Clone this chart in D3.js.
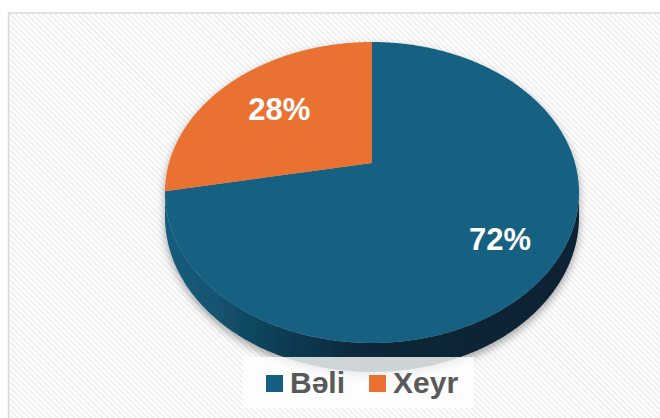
<html>
<head>
<script src="https://cdn.jsdelivr.net/npm/d3@7"></script>
<style>
  body { margin: 0; background: #fff; }
  svg { display: block; }
</style>
</head>
<body>
<div id="chart"></div>
<script type="text/javascript">
// data
const categories = ["Bəli", "Xeyr"];
const values = [72, 28];
const colors = ["#156082", "#E97132"];

const W = 660, H = 418;
const svg = d3.select("#chart").append("svg").attr("width", W).attr("height", H);
const defs = svg.append("defs");

// striped chart background
const pat = defs.append("pattern")
  .attr("id", "stripes").attr("width", 4).attr("height", 4)
  .attr("patternUnits", "userSpaceOnUse")
  .attr("patternTransform", "rotate(-45)");
pat.append("rect").attr("width", 4).attr("height", 4).attr("fill", "#ffffff");
pat.append("rect").attr("width", 2).attr("height", 4).attr("fill", "#f0f0f0");

svg.append("rect")
  .attr("x", 8.5).attr("y", 13).attr("width", 670).attr("height", 430)
  .attr("fill", "url(#stripes)")
  .attr("stroke", "#d9d9d9").attr("stroke-width", 1.5);

// side gradient for the 3d rim
const grad = defs.append("linearGradient")
  .attr("id", "side").attr("gradientUnits", "userSpaceOnUse")
  .attr("x1", 165).attr("x2", 580).attr("y1", 0).attr("y2", 0);
[[0, "#155d7d"], [0.12, "#135470"], [0.3, "#0e3a52"], [0.5, "#0a2637"], [1, "#0a2331"]].forEach(s =>
  grad.append("stop").attr("offset", s[0]).attr("stop-color", s[1]));

const shadow = defs.append("filter").attr("id", "shadow")
  .attr("x", "-10%").attr("y", "-10%").attr("width", "120%").attr("height", "130%");
shadow.append("feDropShadow").attr("dx", 0).attr("dy", 4).attr("stdDeviation", 4)
  .attr("flood-color", "#000").attr("flood-opacity", 0.35);

// perspective projection of the pie disk
const cx = 372, cy = 163;   // projected centre of the disk
const A = 203, B = 144.7;   // horizontal / depth scale
const k = 0.196;            // perspective strength
const depth = 23.3;         // rim thickness

function proj(angle, r, down) {
  const u = r * Math.sin(angle), v = -r * Math.cos(angle);
  const s = 1 / (1 - k * v);
  return [cx + A * u * s, cy + B * v * s + (down ? depth * s : 0)];
}

const pie = d3.pie().sort(null).startAngle(0).endAngle(2 * Math.PI);
const arcs = pie(values);
const step = Math.PI / 360;

function arcPoints(a0, a1, r, down) {
  const pts = [];
  const n = Math.max(2, Math.ceil((a1 - a0) / step));
  for (let i = 0; i <= n; i++) pts.push(proj(a0 + (a1 - a0) * i / n, r, down));
  return pts;
}

const line = d3.line();
const g = svg.append("g").attr("filter", "url(#shadow)");

// visible front band of the rim (between the left/right extremes)
const te = Math.acos(-k);   // angle of the widest point
arcs.forEach((d, i) => {
  const a0 = Math.max(d.startAngle, te), a1 = Math.min(d.endAngle, 2 * Math.PI - te);
  if (a1 <= a0) return;
  const top = arcPoints(a0, a1, 1, false);
  const bot = arcPoints(a0, a1, 1, true).reverse();
  g.append("path")
    .attr("d", line(top.concat(bot)) + "Z")
    .attr("fill", i === 0 ? "url(#side)" : d3.color(colors[i]).darker(1.2));
});

// top faces
g.selectAll("path.top").data(arcs).enter().append("path")
  .attr("class", "top")
  .attr("d", d => line([[cx, cy]].concat(arcPoints(d.startAngle, d.endAngle, 1, false))) + "Z")
  .attr("fill", (d, i) => colors[i]);

// percent labels
const total = d3.sum(values);
const labelPos = d => {
  const p = proj((d.startAngle + d.endAngle) / 2, 0.7, false);
  return [p[0] + 8, p[1] + 6];
};
svg.selectAll("text.pct").data(arcs).enter().append("text")
  .attr("class", "pct")
  .attr("x", d => labelPos(d)[0])
  .attr("y", d => labelPos(d)[1])
  .attr("text-anchor", "middle").attr("dominant-baseline", "central")
  .attr("font-family", "Liberation Sans, Arial, sans-serif")
  .attr("font-weight", "bold").attr("font-size", 31).attr("fill", "#fff")
  .text(d => Math.round(d.value / total * 100) + "%");

// legend
svg.append("rect")
  .attr("x", 243).attr("y", 357).attr("width", 231).attr("height", 51)
  .attr("fill", "#fff").attr("fill-opacity", 0.8);

const legX = [266, 369];
const leg = svg.selectAll("g.leg").data(categories).enter().append("g")
  .attr("class", "leg")
  .attr("transform", (d, i) => `translate(${legX[i]},375)`);
leg.append("rect").attr("width", 17).attr("height", 17).attr("fill", (d, i) => colors[i]);
leg.append("text")
  .attr("x", 24).attr("y", 18)
  .attr("font-family", "Liberation Sans, Arial, sans-serif")
  .attr("font-weight", "bold").attr("font-size", 30).attr("fill", "#595959")
  .text(d => d);
</script>
</body>
</html>
